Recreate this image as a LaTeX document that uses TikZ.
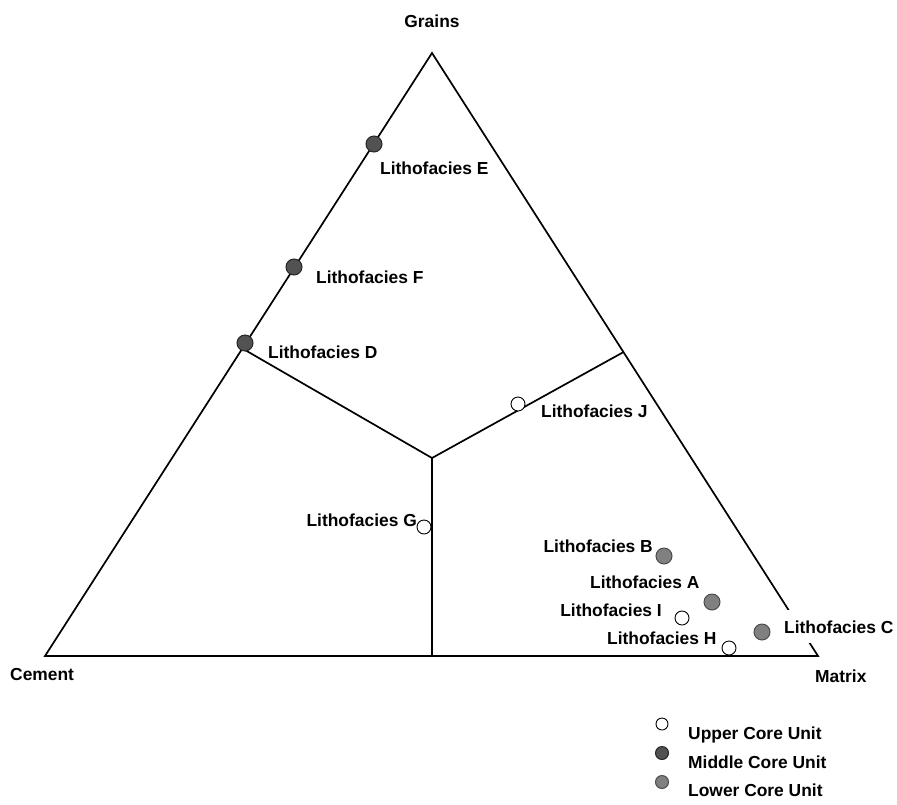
\documentclass[tikz,border=0pt]{standalone}
\usepackage{fontspec}
\setmainfont{Liberation Sans}
\usetikzlibrary{calc}

\begin{document}
\begin{tikzpicture}[x=1pt, y=-1pt,
   edge/.style={line width=1.7pt},
   upper/.style={circle, draw=black, fill=white, line width=0.9pt, inner sep=0pt, minimum size=14pt},
   middle/.style={circle, draw=black!85, fill=black!68, line width=1pt, inner sep=0pt, minimum size=16pt},
   lower/.style={circle, draw=black!70, fill=black!50, line width=1pt, inner sep=0pt, minimum size=16pt},
   facies/.style={font=\fontsize{17.4}{20}\selectfont\bfseries, inner sep=0pt},
]
\useasboundingbox (0,0) rectangle (897,804);

% corners and field boundaries
\coordinate (grains) at (432,53);
\coordinate (cement) at (45,656);
\coordinate (matrix) at (818,656);
\coordinate (core)   at (432,458);
\coordinate (cg) at ($(cement)!0.51!(grains)$);
\coordinate (gm) at ($(matrix)!0.504!(grains)$);
\coordinate (cm) at (432,656);

\draw[edge] (grains) -- (cement) -- (matrix) -- cycle;
\draw[edge] (cg) -- (core) -- (gm);
\draw[edge] (core) -- (cm);

\node[facies, anchor=base]      (lgrains) at (432,27)  {Grains};
\node[facies, anchor=base west] (lcement) at (10,680)  {Cement};
\node[facies, anchor=base west] (lmatrix) at (815,682) {Matrix};

% samples
\node[middle] (fE) at (374,144) {};
\node[middle] (fF) at (294,267) {};
\node[middle] (fD) at (245,343) {};
\node[upper]  (fJ) at (518,404) {};
\node[upper]  (fG) at (424,527) {};
\node[lower]  (fB) at (664,556) {};
\node[lower]  (fA) at (712,602) {};
\node[upper]  (fI) at (682,618) {};
\node[lower]  (fC) at (762,632) {};
\node[upper]  (fH) at (729,648) {};

\node[facies, anchor=base west] (lE) at (380,174) {Lithofacies E};
\node[facies, anchor=base west] (lF) at (316,283) {Lithofacies F};
\node[facies, anchor=base west] (lD) at (268,358) {Lithofacies D};
\node[facies, anchor=base west] (lJ) at (541,417) {Lithofacies J};
\node[facies, anchor=base east] (lG) at (417,526) {Lithofacies G};
\node[facies, anchor=base east] (lB) at (653,552) {Lithofacies B};
\node[facies, anchor=base west] (lA) at (590,588) {Lithofacies A};
\node[facies, anchor=base east] (lI) at (662,616) {Lithofacies I};
\node[facies, anchor=base west, fill=white, inner xsep=1pt, inner ysep=10pt] (lC) at (783,633) {Lithofacies C};
\node[facies, anchor=base west] (lH) at (607,644) {Lithofacies H};

% legend
\node[upper, minimum size=12pt]  (kU) at (662,724) {};
\node[middle, minimum size=13pt] (kM) at (662,753) {};
\node[lower, minimum size=13pt]  (kL) at (662,782) {};
\node[facies, anchor=base west] (tU) at (688,739) {Upper Core Unit};
\node[facies, anchor=base west] (tM) at (688,768) {Middle Core Unit};
\node[facies, anchor=base west] (tL) at (688,796) {Lower Core Unit};
\end{tikzpicture}
\end{document}
